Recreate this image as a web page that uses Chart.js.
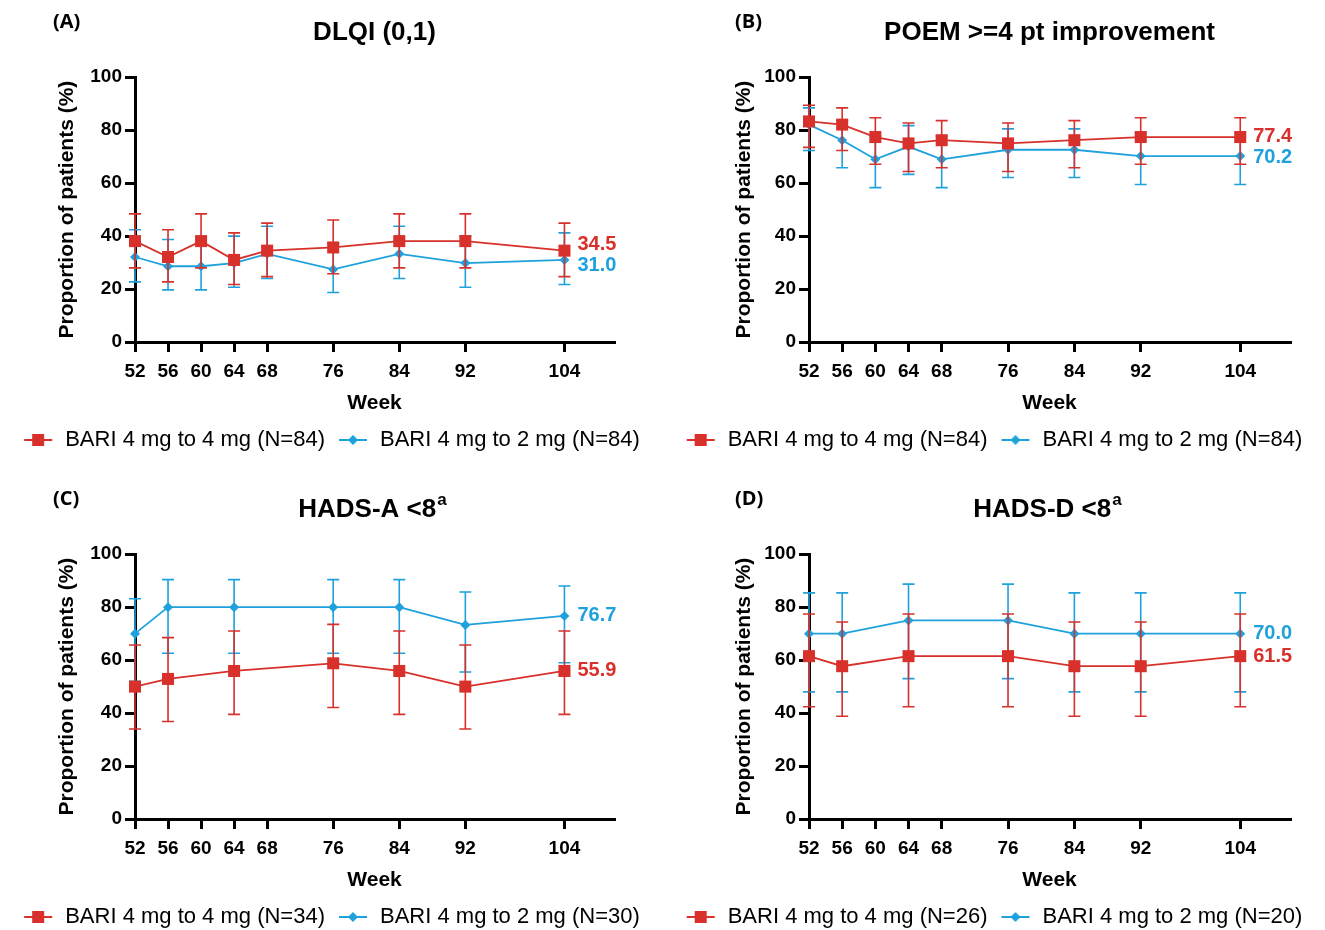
<!DOCTYPE html>
<html>
<head>
<meta charset="utf-8">
<script src="https://cdn.jsdelivr.net/npm/chart.js@4"></script>
<style>
  body { margin: 0; background: #fff; }
  #wrap { position: relative; width: 1325px; height: 930px; }
  canvas { position: absolute; }
</style>
</head>
<body>
<div id="wrap">
  <canvas id="cA" width="662" height="461" style="left:0;top:0"></canvas>
  <canvas id="cB" width="663" height="461" style="left:662px;top:0"></canvas>
  <canvas id="cC" width="662" height="461" style="left:0;top:477px"></canvas>
  <canvas id="cD" width="663" height="461" style="left:662px;top:477px"></canvas>
</div>
<script>
// weeks
const weeksAB = [52, 56, 60, 64, 68, 76, 84, 92, 104];
const weeksCD = [52, 56, 64, 76, 84, 92, 104];
const weekTicks = [52, 56, 60, 64, 68, 76, 84, 92, 104];

// (A) DLQI (0,1)
const dlqi4 = [38.1, 32.1, 38.1, 31.0, 34.5, 35.7, 38.1, 38.1, 34.5];
const dlqi4Lo = [28.0, 22.7, 28.0, 21.7, 24.7, 25.8, 28.0, 28.0, 24.7];
const dlqi4Hi = [48.4, 42.4, 48.4, 41.2, 44.9, 46.1, 48.4, 48.4, 44.9];
const dlqi2 = [32.1, 28.6, 28.6, 29.8, 33.3, 27.4, 33.3, 29.8, 31.0];
const dlqi2Lo = [22.7, 19.7, 19.7, 20.7, 24.0, 18.7, 24.0, 20.7, 21.7];
const dlqi2Hi = [42.4, 38.7, 38.7, 40.0, 43.7, 37.4, 43.7, 40.0, 41.2];

// (B) POEM >=4 pt improvement
const poem4 = [83.3, 82.1, 77.4, 75.0, 76.2, 75.0, 76.2, 77.4, 77.4];
const poem4Lo = [73.5, 72.3, 67.1, 64.4, 65.8, 64.4, 65.8, 67.1, 67.1];
const poem4Hi = [89.4, 88.4, 84.7, 82.7, 83.6, 82.7, 83.6, 84.7, 84.7];
const poem2 = [82.1, 76.2, 69.0, 73.8, 69.0, 72.6, 72.6, 70.2, 70.2];
const poem2Lo = [72.3, 65.8, 58.3, 63.3, 58.3, 62.1, 62.1, 59.5, 59.5];
const poem2Hi = [88.4, 83.6, 77.8, 81.7, 77.8, 80.5, 80.5, 78.9, 78.9];

// (C) HADS-A <8
const hadsa4 = [50.0, 52.9, 55.9, 58.8, 55.9, 50.0, 55.9];
const hadsa4Lo = [34.0, 36.8, 39.5, 42.1, 39.5, 34.0, 39.5];
const hadsa4Hi = [65.7, 68.5, 71.0, 73.5, 71.0, 65.7, 71.0];
const hadsa2 = [70.0, 80.0, 80.0, 80.0, 80.0, 73.3, 76.7];
const hadsa2Lo = [52.0, 62.6, 62.6, 62.6, 62.6, 55.5, 59.0];
const hadsa2Hi = [83.2, 90.4, 90.4, 90.4, 90.4, 85.7, 88.0];

// (D) HADS-D <8
const hadsd4 = [61.5, 57.7, 61.5, 61.5, 57.7, 57.7, 61.5];
const hadsd4Lo = [42.4, 38.8, 42.4, 42.4, 38.8, 38.8, 42.4];
const hadsd4Hi = [77.4, 74.4, 77.4, 77.4, 74.4, 74.4, 77.4];
const hadsd2 = [70.0, 70.0, 75.0, 75.0, 70.0, 70.0, 70.0];
const hadsd2Lo = [48.0, 48.0, 53.0, 53.0, 48.0, 48.0, 48.0];
const hadsd2Hi = [85.4, 85.4, 88.7, 88.7, 85.4, 85.4, 85.4];

const RED = '#d8302a';
const BLUE = '#1ea1dc';
const FONT = "'Liberation Sans', Arial, sans-serif";

// little line+marker pictures for the legend
function legendIcon(color, shape) {
  const c = document.createElement('canvas');
  c.width = 30; c.height = 16;
  const g = c.getContext('2d');
  g.strokeStyle = color; g.lineWidth = 2;
  g.beginPath(); g.moveTo(1, 8); g.lineTo(29, 8); g.stroke();
  g.fillStyle = color;
  if (shape == 'sq') {
    g.fillRect(9, 2, 12, 12);
  } else {
    g.beginPath(); g.moveTo(10, 8); g.lineTo(15, 3); g.lineTo(20, 8); g.lineTo(15, 13); g.closePath(); g.fill();
  }
  return c;
}
const icons = [legendIcon(RED, 'sq'), legendIcon(BLUE, 'dia')];

// vertical error bars with caps, drawn under each dataset
const errorBars = {
  id: 'errorBars',
  beforeDatasetDraw(chart, args) {
    const ds = chart.data.datasets[args.index];
    const x = chart.scales.x, y = chart.scales.y, ctx = chart.ctx;
    ctx.save();
    ctx.strokeStyle = ds.borderColor;
    ctx.lineWidth = 1.6;
    ds.data.forEach((p, i) => {
      const px = x.getPixelForValue(p.x);
      const top = y.getPixelForValue(ds.hi[i]);
      const bot = y.getPixelForValue(ds.lo[i]);
      ctx.beginPath();
      ctx.moveTo(px, top); ctx.lineTo(px, bot);
      ctx.moveTo(px - 6, top); ctx.lineTo(px + 6, top);
      ctx.moveTo(px - 6, bot); ctx.lineTo(px + 6, bot);
      ctx.stroke();
    });
    ctx.restore();
  }
};

// panel letter, superscript on title, values at the end of the lines
const extras = {
  id: 'extras',
  afterDraw(chart, args, opts) {
    const ctx = chart.ctx;
    ctx.save();
    ctx.fillStyle = '#000';
    ctx.textBaseline = 'middle';
    ctx.textAlign = 'left';
    ctx.font = "bold 20px 'Open Sans', sans-serif";
    ctx.fillText(opts.letter, opts.letterX, 22);

    if (opts.sup) {
      const t = chart.titleBlock;
      const full = chart.options.plugins.title.text;
      ctx.font = 'bold 26px ' + FONT;
      const wFull = ctx.measureText(full).width;
      const wMain = ctx.measureText(full.trimEnd()).width;
      const left = (t.left + t.right) / 2 - wFull / 2;
      const cy = (t.top + t.bottom) / 2 + (chart.options.plugins.title.padding.top - chart.options.plugins.title.padding.bottom) / 2;
      ctx.font = 'bold 17px ' + FONT;
      ctx.fillText(opts.sup, left + wMain + 1, cy - 9);
    }

    const y = chart.scales.y, x = chart.scales.x;
    const sets = chart.data.datasets;
    const ys = sets.map(ds => y.getPixelForValue(ds.data[ds.data.length - 1].y));
    if (Math.abs(ys[0] - ys[1]) < 21) {
      const m = (ys[0] + ys[1]) / 2;
      const s = ys[0] < ys[1] ? -1 : 1;
      ys[0] = m + s * 10.5;
      ys[1] = m - s * 10.5;
    }
    ctx.font = 'bold 20px ' + FONT;
    sets.forEach((ds, i) => {
      const last = ds.data[ds.data.length - 1];
      ctx.fillStyle = ds.borderColor;
      ctx.fillText(last.y.toFixed(1), x.getPixelForValue(last.x) + 13, ys[i]);
    });
    ctx.restore();
  }
};

function pts(weeks, vals) {
  return weeks.map((w, i) => ({x: w, y: vals[i]}));
}

function makeChart(id, p) {
  const tickFont = {family: FONT, size: 19, weight: 'bold'};
  const axisFont = {family: FONT, size: 21, weight: 'bold'};
  new Chart(document.getElementById(id), {
    type: 'line',
    data: {
      datasets: [{
        label: p.label4,
        data: pts(p.weeks, p.v4), lo: p.lo4, hi: p.hi4,
        borderColor: RED, backgroundColor: RED, borderWidth: 1.8,
        pointStyle: 'rect', pointRadius: 8.5, pointHoverRadius: 8.5, pointBorderWidth: 0,
        clip: false
      }, {
        label: p.label2,
        data: pts(p.weeks, p.v2), lo: p.lo2, hi: p.hi2,
        borderColor: BLUE, backgroundColor: BLUE, borderWidth: 1.8,
        pointStyle: 'rectRot', pointRadius: 5, pointHoverRadius: 5, pointBorderWidth: 0,
        clip: false
      }]
    },
    options: {
      responsive: false,
      animation: false,
      scales: {
        x: {
          type: 'linear', min: 52, max: 110,
          afterBuildTicks: s => { s.ticks = weekTicks.map(v => ({value: v})); },
          afterFit: s => { s.height = 75; },
          grid: {drawOnChartArea: false, drawTicks: true, tickLength: 10, lineWidth: 3, color: '#000'},
          border: {display: true, width: 3, color: '#000'},
          ticks: {font: tickFont, color: '#000', padding: 8, maxRotation: 0, autoSkip: false},
          title: {display: true, text: 'Week', font: axisFont, color: '#000', padding: {top: 0, bottom: 1}}
        },
        y: {
          min: 0, max: 100,
          afterFit: s => { s.width = p.yWidth; },
          grid: {drawOnChartArea: false, drawTicks: true, tickLength: 10, lineWidth: 3, color: '#000'},
          border: {display: true, width: 3, color: '#000'},
          ticks: {stepSize: 20, font: tickFont, color: '#000', padding: 3},
          title: {display: true, text: 'Proportion of patients (%)', font: axisFont, color: '#000', padding: {top: p.yTitlePad, bottom: 0}}
        },
        // empty right-hand axis, only keeps room for the end values
        room: {
          position: 'right',
          afterFit: s => { s.width = p.padRight; },
          grid: {display: false}, border: {display: false}, ticks: {display: false}
        }
      },
      plugins: {
        tooltip: {enabled: false},
        title: {
          display: true, text: p.title, fullSize: false, color: '#000',
          font: {family: FONT, size: 26, weight: 'bold'},
          padding: {top: 17, bottom: 29}
        },
        legend: {
          position: 'bottom',
          labels: {
            usePointStyle: true, pointStyleWidth: 32, padding: 12, color: '#000',
            font: {family: FONT, size: 22},
            generateLabels: chart => chart.data.datasets.map((ds, i) => ({
              text: ds.label, pointStyle: icons[i], fillStyle: ds.borderColor,
              strokeStyle: ds.borderColor, lineWidth: 0, datasetIndex: i, fontColor: '#000'
            }))
          }
        },
        extras: {letter: p.letter, letterX: p.letterX, sup: p.sup}
      }
    },
    plugins: [errorBars, extras]
  });
}

makeChart('cA', {
  letter: '(A)', letterX: 53, title: 'DLQI (0,1)', weeks: weeksAB,
  v4: dlqi4, lo4: dlqi4Lo, hi4: dlqi4Hi, v2: dlqi2, lo2: dlqi2Lo, hi2: dlqi2Hi,
  label4: 'BARI 4 mg to 4 mg (N=84)', label2: 'BARI 4 mg to 2 mg (N=84)',
  yWidth: 135, yTitlePad: 55, padRight: 48
});
makeChart('cB', {
  letter: '(B)', letterX: 73, title: 'POEM >=4 pt improvement', weeks: weeksAB,
  v4: poem4, lo4: poem4Lo, hi4: poem4Hi, v2: poem2, lo2: poem2Lo, hi2: poem2Hi,
  label4: 'BARI 4 mg to 4 mg (N=84)', label2: 'BARI 4 mg to 2 mg (N=84)',
  yWidth: 147, yTitlePad: 70, padRight: 35
});
makeChart('cC', {
  letter: '(C)', letterX: 53, title: 'HADS-A <8  ', sup: 'a', weeks: weeksCD,
  v4: hadsa4, lo4: hadsa4Lo, hi4: hadsa4Hi, v2: hadsa2, lo2: hadsa2Lo, hi2: hadsa2Hi,
  label4: 'BARI 4 mg to 4 mg (N=34)', label2: 'BARI 4 mg to 2 mg (N=30)',
  yWidth: 135, yTitlePad: 55, padRight: 48
});
makeChart('cD', {
  letter: '(D)', letterX: 73, title: 'HADS-D <8  ', sup: 'a', weeks: weeksCD,
  v4: hadsd4, lo4: hadsd4Lo, hi4: hadsd4Hi, v2: hadsd2, lo2: hadsd2Lo, hi2: hadsd2Hi,
  label4: 'BARI 4 mg to 4 mg (N=26)', label2: 'BARI 4 mg to 2 mg (N=20)',
  yWidth: 147, yTitlePad: 70, padRight: 35
});
</script>
</body>
</html>
